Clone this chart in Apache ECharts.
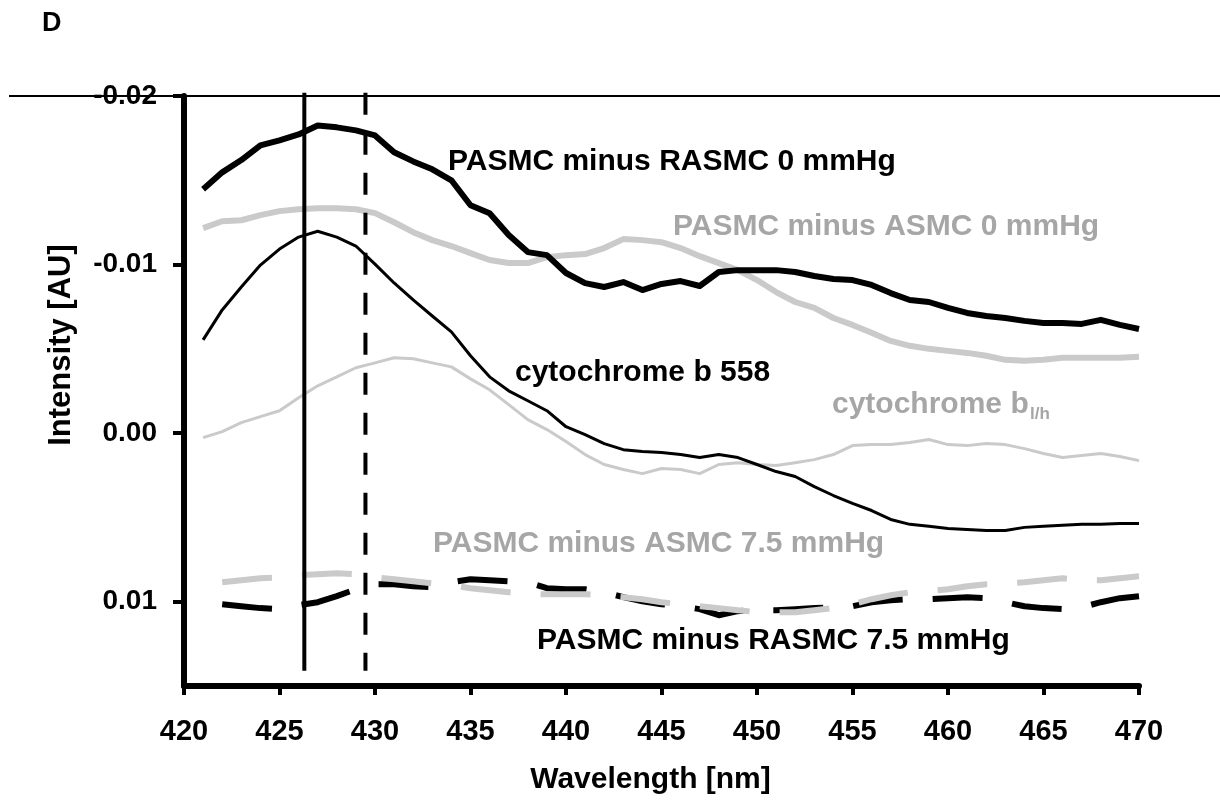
<!DOCTYPE html>
<html>
<head>
<meta charset="utf-8">
<script src="https://cdn.jsdelivr.net/npm/echarts@6/dist/echarts.min.js"></script>
<style>
html,body{margin:0;padding:0;background:#fff;}
#chart{width:1220px;height:802px;}
</style>
</head>
<body>
<div id="chart"></div>
<script>
// ---- data ----
const wavelengths = [421,422,423,424,425,426,427,428,429,430,431,432,433,434,435,436,437,438,439,440,
  441,442,443,444,445,446,447,448,449,450,451,452,453,454,455,456,457,458,459,460,
  461,462,463,464,465,466,467,468,469,470];

const rasmc0 = [-0.01447,-0.01547,-0.0162,-0.01707,-0.01737,-0.01772,-0.01825,-0.01814,-0.01796,-0.01766,
  -0.01666,-0.01612,-0.01565,-0.0150,-0.01352,-0.01305,-0.01175,-0.01074,-0.01056,-0.0095,
  -0.0089,-0.00867,-0.00896,-0.00849,-0.00885,-0.00902,-0.00873,-0.00956,-0.00967,-0.00967,
  -0.00967,-0.00956,-0.00932,-0.00914,-0.00908,-0.00879,-0.00831,-0.0079,-0.00778,-0.00743,
  -0.00713,-0.00695,-0.00683,-0.00666,-0.00654,-0.00654,-0.00648,-0.00672,-0.00642,-0.00618];

const asmc0 = [-0.01216,-0.01257,-0.01263,-0.01293,-0.01317,-0.01328,-0.01334,-0.01334,-0.01328,-0.01305,
  -0.01251,-0.01192,-0.01145,-0.0111,-0.01068,-0.01027,-0.01009,-0.01009,-0.01044,-0.01056,
  -0.01062,-0.01098,-0.01151,-0.01145,-0.01133,-0.01098,-0.0105,-0.01009,-0.00967,-0.00908,
  -0.00837,-0.00778,-0.00743,-0.00683,-0.00642,-0.00595,-0.00547,-0.00518,-0.005,-0.00488,
  -0.00476,-0.00459,-0.00435,-0.00429,-0.00435,-0.00447,-0.00447,-0.00447,-0.00447,-0.00453];

const cytB558 = [-0.00553,-0.00731,-0.00867,-0.00997,-0.01092,-0.01163,-0.01198,-0.01163,-0.0111,-0.01003,
  -0.00891,-0.0079,-0.00695,-0.00601,-0.00459,-0.00334,-0.00251,-0.00192,-0.00133,-0.00038,
  0.00009,0.00062,0.00098,0.00109,0.00115,0.00127,0.00145,0.00127,0.00145,0.00186,
  0.00228,0.00257,0.00317,0.0037,0.00417,0.00459,0.00512,0.00541,0.00553,0.00565,
  0.00571,0.00577,0.00577,0.00559,0.00553,0.00547,0.00541,0.00541,0.00536,0.00536];

const cytBlh = [0.00027,-0.00009,-0.00062,-0.00098,-0.00133,-0.0021,-0.00281,-0.00334,-0.00388,-0.00417,
  -0.00447,-0.00441,-0.00417,-0.00393,-0.00322,-0.00257,-0.00169,-0.0008,-0.00021,0.0005,
  0.00127,0.00186,0.00216,0.0024,0.0021,0.00216,0.0024,0.00186,0.00175,0.00186,
  0.00192,0.00175,0.00157,0.00127,0.00074,0.00068,0.00068,0.00056,0.00038,0.00068,
  0.00074,0.00062,0.00068,0.00092,0.00121,0.00145,0.00133,0.00121,0.00139,0.00163];

const asmc75 = [null,0.00885,0.00873,0.00861,0.00855,0.00843,0.00837,0.00831,0.00837,0.00855,
  0.00867,0.00879,0.00891,0.00902,0.0092,0.00932,0.00944,0.00956,0.00956,0.00956,
  0.00956,0.00962,0.00973,0.00985,0.01003,0.01015,0.01027,0.01038,0.0105,0.01062,
  0.01062,0.01062,0.0105,0.01038,0.01015,0.00985,0.00962,0.00944,0.00938,0.00926,
  0.00908,0.00896,0.00891,0.00885,0.00873,0.00861,0.00873,0.00873,0.00861,0.00849];

const rasmc75 = [null,0.01015,0.01027,0.01038,0.01044,0.01021,0.01003,0.00967,0.00926,0.00896,
  0.00896,0.00908,0.00914,0.00885,0.00867,0.00873,0.00879,0.00885,0.0092,0.00926,
  0.00926,0.00944,0.00973,0.00997,0.01015,0.01027,0.01044,0.0108,0.01056,0.0105,
  0.0105,0.01044,0.01038,0.01033,0.01027,0.01003,0.00991,0.00985,0.00985,0.00979,
  0.00973,0.00979,0.01003,0.01027,0.01038,0.01044,0.01033,0.01003,0.00979,0.00967];

const xTicks = [420,425,430,435,440,445,450,455,460,465,470];
const yTicks = [-0.02,-0.01,0,0.01];
const markerSolid = 426.3;
const markerDashed = 429.5;
const markerSpan = [-0.0202, 0.0141];

const labels = {
  rasmc0: 'PASMC minus RASMC 0 mmHg',
  asmc0: 'PASMC minus ASMC 0 mmHg',
  b558: 'cytochrome b 558',
  blh: 'cytochrome b',
  blhSub: 'l/h',
  asmc75: 'PASMC minus ASMC 7.5 mmHg',
  rasmc75: 'PASMC minus RASMC 7.5 mmHg',
  panel: 'D',
  xName: 'Wavelength [nm]',
  yName: 'Intensity [AU]'
};

// ---- chart ----
const FONT = '"Liberation Sans", Arial, Helvetica, sans-serif';
const GRAY_LINE = '#cacaca';
const GRAY_TEXT = '#a6a6a6';
const pairs = arr => wavelengths.map((w, i) => [w, arr[i]]);

function lineSeries(name, arr, color, width, type, z) {
  return {
    name, type: 'line', data: pairs(arr), showSymbol: false, symbol: 'none',
    connectNulls: false, clip: false, z: z,
    lineStyle: { color, width, type: type || 'solid', cap: 'butt', join: 'round' },
    emphasis: { disabled: true }
  };
}

const chart = echarts.init(document.getElementById('chart'), null, { renderer: 'canvas' });

const textEl = (text, x, y, color, size, extra) => Object.assign({
  type: 'text', x, y, z: 50,
  style: { text, fill: color, fontSize: size, fontWeight: 'bold', fontFamily: FONT,
    align: 'left', verticalAlign: 'middle' }
}, extra || {});

chart.setOption({
  animation: false,
  backgroundColor: '#fff',
  grid: { left: 184, right: 81, top: 96, bottom: 116 },
  xAxis: {
    type: 'value', min: 420, max: 470, interval: 5,
    name: labels.xName, nameLocation: 'middle', nameGap: 79,
    nameTextStyle: { fontSize: 30, fontWeight: 'bold', fontFamily: FONT, color: '#000', padding: [0, 22, 0, 0] },
    axisLine: { show: true, onZero: false, lineStyle: { color: '#000', width: 6 } },
    axisTick: { show: true, inside: false, length: 9, lineStyle: { color: '#000', width: 4 },
      customValues: xTicks },
    axisLabel: { margin: 31, fontSize: 29, fontWeight: 'bold', fontFamily: FONT, color: '#000',
      customValues: xTicks },
    splitLine: { show: false }
  },
  yAxis: {
    type: 'value', min: -0.02, max: 0.015, inverse: true,
    axisLine: { show: true, onZero: false, lineStyle: { color: '#000', width: 6 } },
    axisTick: { show: true, inside: false, length: 11, lineStyle: { color: '#000', width: 4 },
      customValues: yTicks },
    axisLabel: { margin: 27, fontSize: 28, fontWeight: 'bold', fontFamily: FONT, color: '#000',
      customValues: yTicks,
      formatter: v => { const s = Number(v).toFixed(2); return s === '-0.00' ? '0.00' : s; } },
    splitLine: { show: false }
  },
  series: [
    lineSeries('cytochrome b l/h', cytBlh, GRAY_LINE, 3, 'solid', 2),
    lineSeries('PASMC minus ASMC 0 mmHg', asmc0, GRAY_LINE, 6, 'solid', 3),
    lineSeries('cytochrome b 558', cytB558, '#000', 3, 'solid', 4),
    lineSeries('PASMC minus RASMC 0 mmHg', rasmc0, '#000', 6, 'solid', 5),
    lineSeries('PASMC minus RASMC 7.5 mmHg', rasmc75, '#000', 6, [50, 30], 6),
    lineSeries('PASMC minus ASMC 7.5 mmHg', asmc75, GRAY_LINE, 6, [50, 30], 7),
    {
      name: 'marker solid', type: 'line', showSymbol: false, symbol: 'none', clip: false, z: 8,
      data: markerSpan.map(v => [markerSolid, v]),
      lineStyle: { color: '#000', width: 4, type: 'solid' }
    },
    {
      name: 'marker dashed', type: 'line', showSymbol: false, symbol: 'none', clip: false, z: 8,
      data: markerSpan.map(v => [markerDashed, v]),
      lineStyle: { color: '#000', width: 4, type: [22, 18] }
    }
  ],
  graphic: [
    { type: 'line', z: 60, shape: { x1: 9, y1: 96, x2: 1220, y2: 96 },
      style: { stroke: '#000', lineWidth: 2 } },
    textEl(labels.panel, 42, 24, '#000', 27),
    textEl(labels.rasmc0, 448, 162, '#000', 30),
    textEl(labels.asmc0, 673, 227, GRAY_TEXT, 30),
    textEl(labels.b558, 515, 373, '#000', 30),
    textEl(labels.blh, 832, 405, GRAY_TEXT, 30),
    textEl(labels.blhSub, 1030, 414, GRAY_TEXT, 17),
    textEl(labels.asmc75, 433, 544, GRAY_TEXT, 30),
    textEl(labels.rasmc75, 537, 641, '#000', 30),
    { type: 'text', x: 61, y: 345, rotation: Math.PI / 2, z: 50,
      style: { text: labels.yName, fill: '#000', fontSize: 31, fontWeight: 'bold', fontFamily: FONT,
        align: 'center', verticalAlign: 'middle' } }
  ]
});
</script>
</body>
</html>
